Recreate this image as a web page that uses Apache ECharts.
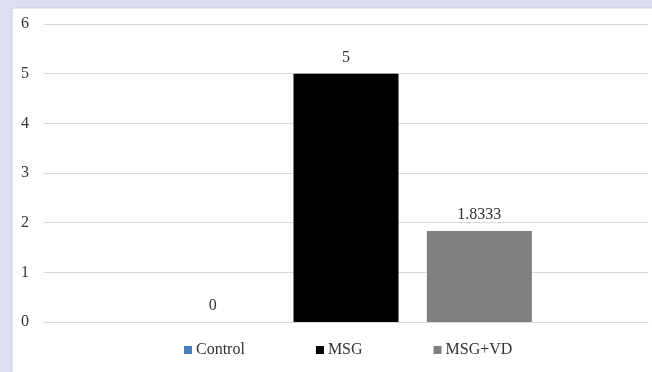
<!DOCTYPE html>
<html>
<head>
<meta charset="utf-8">
<script src="https://cdn.jsdelivr.net/npm/echarts@6/dist/echarts.min.js"></script>
<style>
  html, body { margin: 0; padding: 0; background: #dcdff0; }
  #chart { width: 652px; height: 372px; }
</style>
</head>
<body>
<div id="chart"></div>
<script>
// Groups and their measured values
const groups = ['Control', 'MSG', 'MSG+VD'];
const values = [0, 5, 1.8333];
const colors = ['#4a7ebb', '#000000', '#7f7f7f'];
const yTicks = [0, 1, 2, 3, 4, 5, 6];

const FONT = '"Liberation Serif", "Times New Roman", serif';
const TEXT = '#333333';

const chart = echarts.init(document.getElementById('chart'));

const series = groups.map((name, i) => ({
  name: name,
  type: 'bar',
  data: [values[i]],
  barWidth: 105,
  barGap: '27%',
  itemStyle: { color: colors[i] },
  label: {
    show: true,
    position: 'top',
    distance: 8,
    color: TEXT,
    fontFamily: FONT,
    fontSize: 16,
    formatter: p => String(values[p.seriesIndex])
  }
}));

chart.setOption({
  backgroundColor: '#dcdff0',
  animation: false,
  graphic: [{
    type: 'rect',
    shape: { x: 12, y: 8, width: 660, height: 380 },
    style: { fill: '#ffffff', stroke: '#d0d0d0', lineWidth: 1 },
    z: -10
  }],
  grid: { left: 44, right: 4, top: 24, bottom: 50 },
  legend: {
    data: groups,
    bottom: 9,
    left: 179,
    icon: 'rect',
    itemWidth: 8,
    itemHeight: 8,
    itemGap: 71,
    textStyle: { color: TEXT, fontFamily: FONT, fontSize: 16, padding: [0, 0, 0, -1] }
  },
  xAxis: {
    type: 'category',
    data: [''],
    axisLine: { lineStyle: { color: '#d9d9d9', width: 1 } },
    axisTick: { show: false },
    axisLabel: { show: false }
  },
  yAxis: {
    type: 'value',
    min: yTicks[0],
    max: yTicks[yTicks.length - 1],
    interval: 1,
    axisLine: { show: false },
    axisTick: { show: false },
    splitLine: { lineStyle: { color: '#d9d9d9', width: 1 } },
    axisLabel: { color: TEXT, fontFamily: FONT, fontSize: 16, margin: 15 }
  },
  series: series
});
</script>
</body>
</html>
